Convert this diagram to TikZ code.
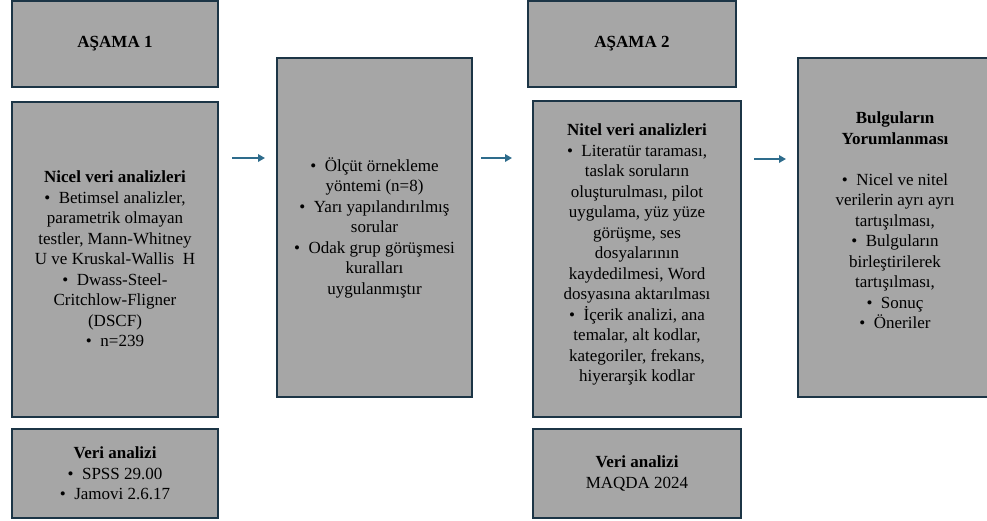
\documentclass[tikz,border=0pt]{standalone}
\usepackage{fontspec}
\setmainfont{Liberation Serif}
\usetikzlibrary{arrows.meta}
\definecolor{kutugri}{HTML}{A6A6A6}
\definecolor{kenar}{HTML}{1C3546}
\definecolor{okmavi}{HTML}{2E6C8C}
\tikzset{kutu/.style={draw=kenar, line width=2pt, fill=kutugri, align=center, inner sep=0pt,
                      font=\fontsize{17}{20.5}\selectfont},
         ok/.style={draw=okmavi, line width=2pt, -{Triangle[length=7pt,width=7.5pt]}}}
\newcommand{\mad}{\textbullet\ \ }

\begin{document}
\begin{tikzpicture}[x=1pt,y=-1pt]
\useasboundingbox (0,0) rectangle (987,520);

% asama 1
\node[kutu, minimum width=206pt, minimum height=86pt] (asama1) at (115,44) {\textbf{AŞAMA 1}};
\node[kutu, minimum width=206pt, minimum height=315pt] (nicel) at (115,259)
  {\textbf{Nicel veri analizleri}\\ \mad Betimsel analizler,\\ parametrik olmayan\\
   testler, Mann-Whitney\\ U ve Kruskal-Wallis\ \ H\\ \mad Dwass-Steel-\\ Critchlow-Fligner\\
   (DSCF)\\ \mad n=239};
\node[kutu, minimum width=206pt, minimum height=89pt] (veri1) at (115,473.5)
  {\textbf{Veri analizi}\\ \mad SPSS 29.00\\ \mad Jamovi 2.6.17};

% orta
\node[kutu, minimum width=195pt, minimum height=339pt] (orta) at (374.5,227.5)
  {\mad Ölçüt örnekleme\\ yöntemi (n=8)\\ \mad Yarı yapılandırılmış\\ sorular\\
   \mad Odak grup görüşmesi\\ kuralları\\ uygulanmıştır};

% asama 2
\node[kutu, minimum width=208pt, minimum height=86pt] (asama2) at (632,44) {\textbf{AŞAMA 2}};
\node[kutu, minimum width=208pt, minimum height=316pt] (nitel) at (637,259)
  {\textbf{Nitel veri analizleri}\\ \mad Literatür taraması,\\ taslak soruların\\
   oluşturulması, pilot\\ uygulama, yüz yüze\\ görüşme, ses\\ dosyalarının\\
   kaydedilmesi, Word\\ dosyasına aktarılması\\ \mad İçerik analizi, ana\\
   temalar, alt kodlar,\\ kategoriler, frekans,\\ hiyerarşik kodlar\\[-8pt]\mbox{}};
\node[kutu, minimum width=208pt, minimum height=89pt] (veri2) at (637,473.5)
  {\textbf{Veri analizi}\\ MAQDA 2024};

% sonuc
\node[kutu, minimum width=194pt, minimum height=339pt] (bulgu) at (895,227.5)
  {\textbf{Bulguların}\\ \textbf{Yorumlanması}\\[20.5pt] \mad Nicel ve nitel\\ verilerin ayrı ayrı\\
   tartışılması,\\ \mad Bulguların\\ birleştirilerek\\ tartışılması,\\ \mad Sonuç\\ \mad Öneriler\\[-6pt]\mbox{}};

\draw[ok, shorten <=13pt, shorten >=11pt] (nicel.east |- 0,158) -- (orta.west |- 0,158);
\draw[ok, shorten <=8pt, shorten >=20pt] (orta.east |- 0,158) -- (nitel.west |- 0,158);
\draw[ok, shorten <=12pt, shorten >=11pt] (nitel.east |- 0,159) -- (bulgu.west |- 0,159);
\end{tikzpicture}
\end{document}
